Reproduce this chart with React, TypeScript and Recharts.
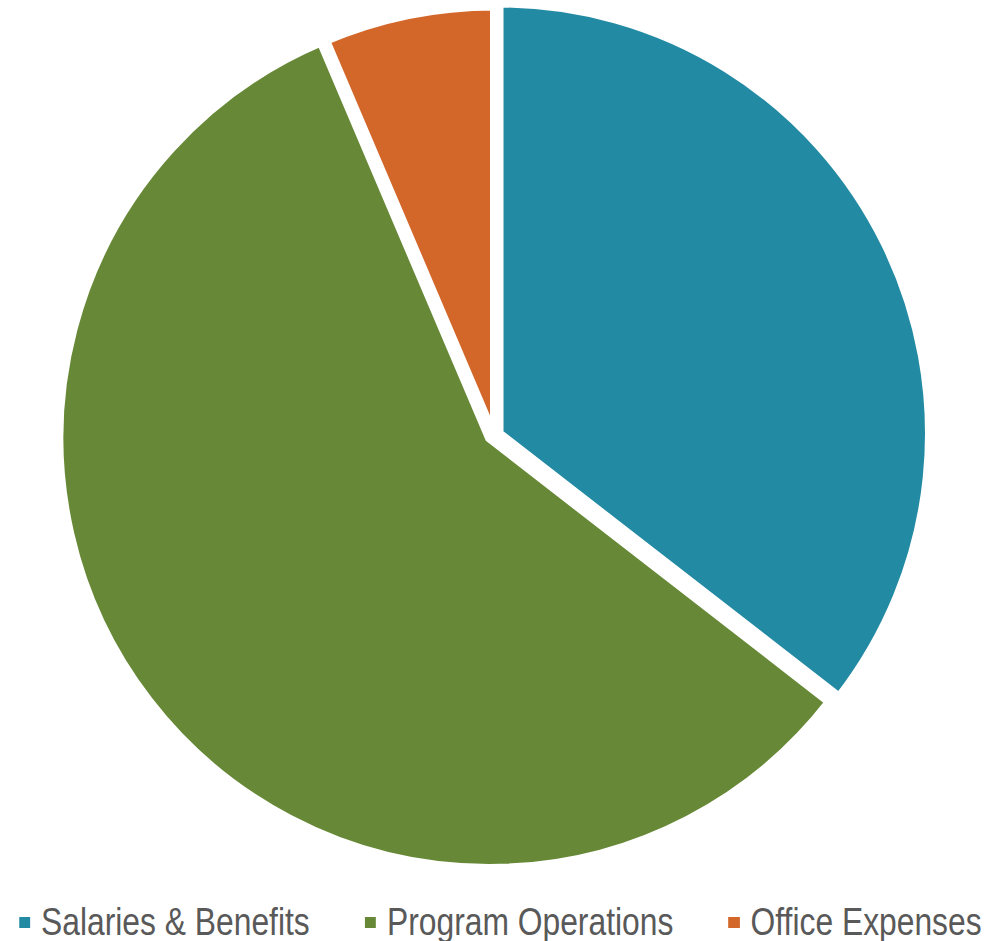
import React from "react";
import { PieChart, Pie, Cell, Legend } from "recharts";

const categories = ["Salaries & Benefits", "Program Operations", "Office Expenses"];
const amounts = [35.5, 58.1, 6.4];
const colors = ["#238AA3", "#678937", "#D36629"];

const data = categories.map((name, i) => ({ name, value: amounts[i] }));

// each slice gets its own pie so it can sit a little off centre (exploded look)
const slicePos = [
  { cx: 499, cy: 433.5, r: 430.5 },
  { cx: 489.5, cy: 438, r: 430.5 },
  { cx: 494.5, cy: 437.5, r: 431.5 },
];

const SCALE_X = 0.837;

function renderLegend() {
  return (
    <div
      style={{
        display: "flex",
        alignItems: "center",
        whiteSpace: "nowrap",
        transform: `scaleX(${SCALE_X})`,
        transformOrigin: "0 0",
        width: 984 / SCALE_X,
        fontFamily: "'Liberation Sans', Arial, sans-serif",
        fontSize: 38,
        lineHeight: "38px",
        color: "#595959",
      }}
    >
      {categories.map((name, i) => (
        <div
          key={name}
          style={{
            display: "flex",
            alignItems: "center",
            marginLeft: i === 0 ? 19 / SCALE_X : 66,
          }}
        >
          <span
            style={{
              display: "inline-block",
              width: 11 / SCALE_X,
              height: 11,
              background: colors[i],
              marginRight: 11 / SCALE_X,
            }}
          />
          <span>{name}</span>
        </div>
      ))}
    </div>
  );
}

export default function App() {
  return (
    <div
      style={{
        position: "absolute",
        left: 0,
        top: 0,
        width: 984,
        height: 941,
        overflow: "hidden",
        background: "#fff",
      }}
    >
      <PieChart width={984} height={941} margin={{ top: 0, right: 0, bottom: 0, left: 0 }}>
        {slicePos.map((p, k) => (
          <Pie
            key={k}
            data={data}
            dataKey="value"
            nameKey="name"
            cx={p.cx}
            cy={p.cy}
            outerRadius={p.r}
            startAngle={90}
            endAngle={-270}
            stroke="#fff"
            strokeWidth={9}
            isAnimationActive={false}
            legendType="none"
          >
            {data.map((d, i) => (
              <Cell
                key={d.name}
                fill={i === k ? colors[i] : "none"}
                stroke={i === k ? "#fff" : "none"}
              />
            ))}
          </Pie>
        ))}
        <Legend
          content={renderLegend}
          wrapperStyle={{ left: 0, top: 903, width: 984 }}
        />
      </PieChart>
    </div>
  );
}
